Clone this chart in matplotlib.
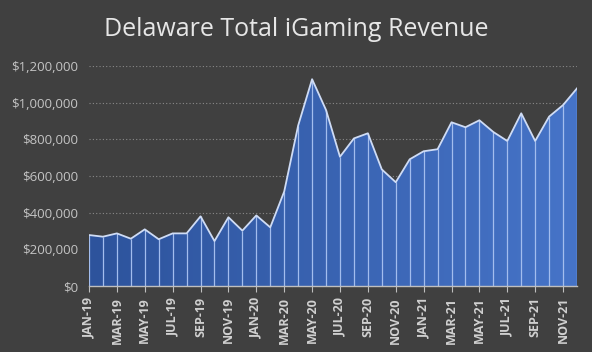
import numpy as np
import matplotlib
matplotlib.use("Agg")
import matplotlib.pyplot as plt
from matplotlib.colors import LinearSegmentedColormap
from matplotlib.patches import Polygon

months = ["JAN", "FEB", "MAR", "APR", "MAY", "JUN", "JUL", "AUG", "SEP", "OCT", "NOV", "DEC"]
categories = [f"{m}-{y}" for y in ["19", "20", "21"] for m in months]
revenue = [278000, 269000, 287000, 258000, 309000, 255000, 287000, 287000, 380000, 245000,
           375000, 302000, 385000, 320000, 515000, 875000, 1128000, 960000, 705000, 805000,
           833000, 636000, 566000, 691000, 735000, 746000, 893000, 866000, 904000, 840000,
           791000, 942000, 791000, 924000, 987000, 1078000]
yticks = [0, 200000, 400000, 600000, 800000, 1000000, 1200000]
title = "Delaware Total iGaming Revenue"

BG = "#404040"
fig = plt.figure(figsize=(5.92, 3.52), dpi=100, facecolor=BG)
ax = fig.add_axes([89/592, 1-286/352, (577-89)/592, 220/352])
ax.set_facecolor(BG)

x = np.arange(len(revenue))
y = np.array(revenue)
ax.set_xlim(0, len(revenue)-1)
ax.set_ylim(0, 1200000)

# gradient fill clipped to area
cmap = LinearSegmentedColormap.from_list("g", ["#2d539c", "#4674c8"])
grad = np.linspace(0, 1, 256).reshape(1, -1)
im = ax.imshow(grad, cmap=cmap, aspect="auto", extent=[0, len(revenue)-1, 0, 1200000],
               origin="lower", zorder=2)
verts = [(0, 0)] + list(zip(x, y)) + [(len(revenue)-1, 0)]
poly = Polygon(verts, closed=True, facecolor="none", edgecolor="none")
ax.add_patch(poly)
im.set_clip_path(poly)

ax.vlines(x, 0, y, color="#a3bdee", linewidth=0.9, zorder=3)
ax.plot(x, y, color="#cfdcf5", linewidth=1.3, zorder=4)

for v in yticks[1:]:
    ax.axhline(v, color="#8a8a8a", linewidth=0.8, linestyle=(0, (1, 2)), zorder=1)

for s in ["top", "right", "left"]:
    ax.spines[s].set_visible(False)
ax.spines["bottom"].set_color("#bfbfbf")
ax.spines["bottom"].set_linewidth(1.0)
ax.spines["bottom"].set_zorder(5)

ax.set_yticks(yticks)
ax.set_yticklabels([f"${v:,.0f}" for v in yticks], color="#c4c4c4", fontsize=9.5,
                   family=["Open Sans", "DejaVu Sans"])
ax.tick_params(axis="y", length=0, pad=8)

ax.set_xticks(x[::2])
ax.set_xticklabels(categories[::2], rotation=90, color="#d0d0d0", fontsize=9,
                   fontweight="bold", family=["Open Sans", "DejaVu Sans"])
ax.tick_params(axis="x", length=4, color="#bfbfbf", pad=4)

fig.text(0.5, 0.915, title, ha="center", va="center", color="#e6e6e6", fontsize=18,
         family=["Open Sans", "DejaVu Sans"])

fig.savefig("out.png", dpi=100, facecolor=BG)
